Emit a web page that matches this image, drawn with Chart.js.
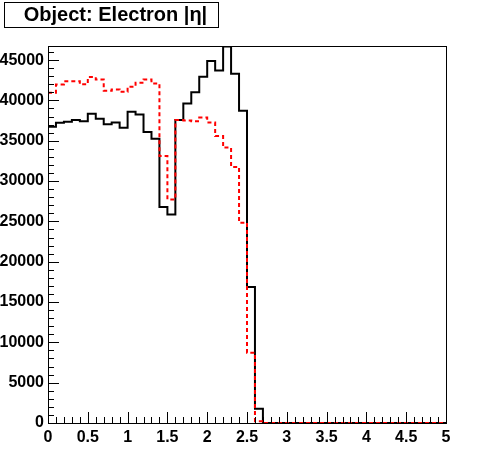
<!DOCTYPE html>
<html>
<head>
<meta charset="utf-8">
<title>Object: Electron |η|</title>
<script src="https://cdn.jsdelivr.net/npm/chart.js@4/dist/chart.umd.min.js"></script>
<style>
  html, body { margin: 0; padding: 0; background: #fff; }
  #wrap { width: 496px; height: 472px; }
</style>
</head>
<body>
<div id="wrap"><canvas id="eta-chart" width="496" height="472"></canvas></div>
<script>
// ---------- DATA ----------
const titleText = "Object: Electron |η|";
const binWidth = 0.1;
const xMin = 0;
const xMax = 5;
const yMax = 46750;

// labelled (major) ticks
const xTickLabels = ["0", "0.5", "1", "1.5", "2", "2.5", "3", "3.5", "4", "4.5", "5"];
const yTickLabels = ["0", "5000", "10000", "15000", "20000", "25000", "30000", "35000", "40000", "45000"];
const xMinorStep = 0.1;
const yMinorStep = 1000;

// black histogram, 50 bins of 0.1 in |eta|
const blackCounts = [
    36750, 37220, 37350, 37560, 37430, 38340, 37720, 37060, 37270, 36600,
    38590, 38260, 36100, 35240, 26800, 25850, 37560, 39630, 41030, 42950,
    44880, 43720, 46700, 43320, 38720, 16850, 1760, 0, 0, 0,
    0, 0, 0, 0, 0, 0, 0, 0, 0, 0,
    0, 0, 0, 0, 0, 0, 0, 0, 0, 0
];

// red dashed histogram
const redCounts = [
    40940, 41980, 42390, 42390, 42000, 42900, 42600, 41200, 41360, 41070,
    41700, 42200, 42600, 42100, 33100, 27730, 37560, 37520, 37430, 37870,
    37250, 35590, 34150, 31760, 24840, 8710, 220, 0, 0, 0,
    0, 0, 0, 0, 0, 0, 0, 0, 0, 0,
    0, 0, 0, 0, 0, 0, 0, 0, 0, 0
];

// ---------- HELPERS ----------
// step points: one per bin low edge, plus the closing upper edge
function toSteps(counts) {
    const pts = counts.map((c, i) => ({ x: +(i * binWidth).toFixed(2), y: c }));
    pts.push({ x: +(counts.length * binWidth).toFixed(2), y: counts[counts.length - 1] });
    return pts;
}

// all tick positions (minor + major), flagged major if it carries a label
function buildTicks(lo, hi, step, labels) {
    const majors = labels.map(Number);
    const out = [];
    const n = Math.round((hi - lo) / step);
    for (let i = 0; i <= n; i++) {
        const v = +(lo + i * step).toFixed(6);
        if (v > hi) break;
        out.push({ value: v, major: majors.some(m => Math.abs(m - v) < step / 100) });
    }
    return out;
}
const xTicks = buildTicks(xMin, xMax, xMinorStep, xTickLabels);
const yTicks = buildTicks(0, yMax, yMinorStep, yTickLabels);

function labelFor(labels, v, step) {
    const hit = labels.find(l => Math.abs(Number(l) - v) < step / 100);
    return hit === undefined ? "" : hit;
}

const LABEL_FONT = { family: "'Liberation Sans', Arial, sans-serif", size: 16, weight: "bold" };

// frame, inward tick marks and title box (ROOT look)
const rootFramePlugin = {
    id: "rootFrame",
    afterDraw(chart) {
        const ctx = chart.ctx;
        const area = chart.chartArea;
        const xs = chart.scales.x;
        const ys = chart.scales.y;
        ctx.save();
        ctx.strokeStyle = "#000";
        ctx.lineWidth = 1;

        // frame
        ctx.strokeRect(Math.round(area.left) + 0.5, Math.round(area.top) + 0.5,
            Math.round(area.right - area.left), Math.round(area.bottom - area.top));

        ctx.beginPath();
        xTicks.forEach(t => {
            const len = t.major ? 11 : 6;
            const px = Math.round(xs.getPixelForValue(t.value)) + 0.5;
            ctx.moveTo(px, area.bottom);
            ctx.lineTo(px, area.bottom - len);
        });
        yTicks.forEach(t => {
            const len = t.major ? 11 : 6;
            const py = Math.round(ys.getPixelForValue(t.value)) + 0.5;
            ctx.moveTo(area.left, py);
            ctx.lineTo(area.left + len, py);
        });
        ctx.stroke();

        // title box
        ctx.fillStyle = "#fff";
        ctx.fillRect(4, 2, 214, 25);
        ctx.strokeRect(4.5, 2.5, 214, 25);
        ctx.fillStyle = "#000";
        ctx.font = "bold 20px 'Liberation Sans', Arial, sans-serif";
        ctx.textAlign = "center";
        ctx.textBaseline = "alphabetic";
        ctx.fillText(titleText, 115.5, 21);
        ctx.restore();
    }
};

// ---------- CHART ----------
const ctx = document.getElementById("eta-chart").getContext("2d");
const etaChart = new Chart(ctx, {
    type: "line",
    data: {
        datasets: [
            {
                label: "red",
                data: toSteps(redCounts),
                stepped: "before",
                borderColor: "#ff0000",
                borderWidth: 2,
                borderDash: [4, 3],
                pointRadius: 0,
                fill: false,
                order: 0
            },
            {
                label: "black",
                data: toSteps(blackCounts),
                stepped: "before",
                borderColor: "#000000",
                borderWidth: 2,
                pointRadius: 0,
                fill: false,
                order: 1
            }
        ]
    },
    options: {
        responsive: false,
        devicePixelRatio: 1,
        animation: false,
        layout: { padding: { top: 46, right: 50, left: 0, bottom: 0 } },
        plugins: {
            legend: { display: false },
            tooltip: { enabled: false },
            title: { display: false }
        },
        scales: {
            x: {
                type: "linear",
                min: xMin,
                max: xMax,
                grid: { display: false, drawTicks: false },
                border: { display: false },
                afterBuildTicks: (scale) => {
                    scale.ticks = xTicks.map(t => ({ value: t.value }));
                },
                ticks: {
                    autoSkip: false,
                    maxRotation: 0,
                    padding: 5,
                    color: "#000",
                    font: LABEL_FONT,
                    callback: (v) => labelFor(xTickLabels, v, xMinorStep)
                },
                afterFit: (scale) => { scale.height = 49; }
            },
            y: {
                type: "linear",
                min: 0,
                max: yMax,
                grid: { display: false, drawTicks: false },
                border: { display: false },
                afterBuildTicks: (scale) => {
                    scale.ticks = yTicks.map(t => ({ value: t.value }));
                },
                ticks: {
                    autoSkip: false,
                    padding: 4,
                    color: "#000",
                    font: LABEL_FONT,
                    callback: (v) => labelFor(yTickLabels, v, yMinorStep)
                },
                afterFit: (scale) => { scale.width = 48; }
            }
        }
    },
    plugins: [rootFramePlugin]
});
</script>
</body>
</html>
